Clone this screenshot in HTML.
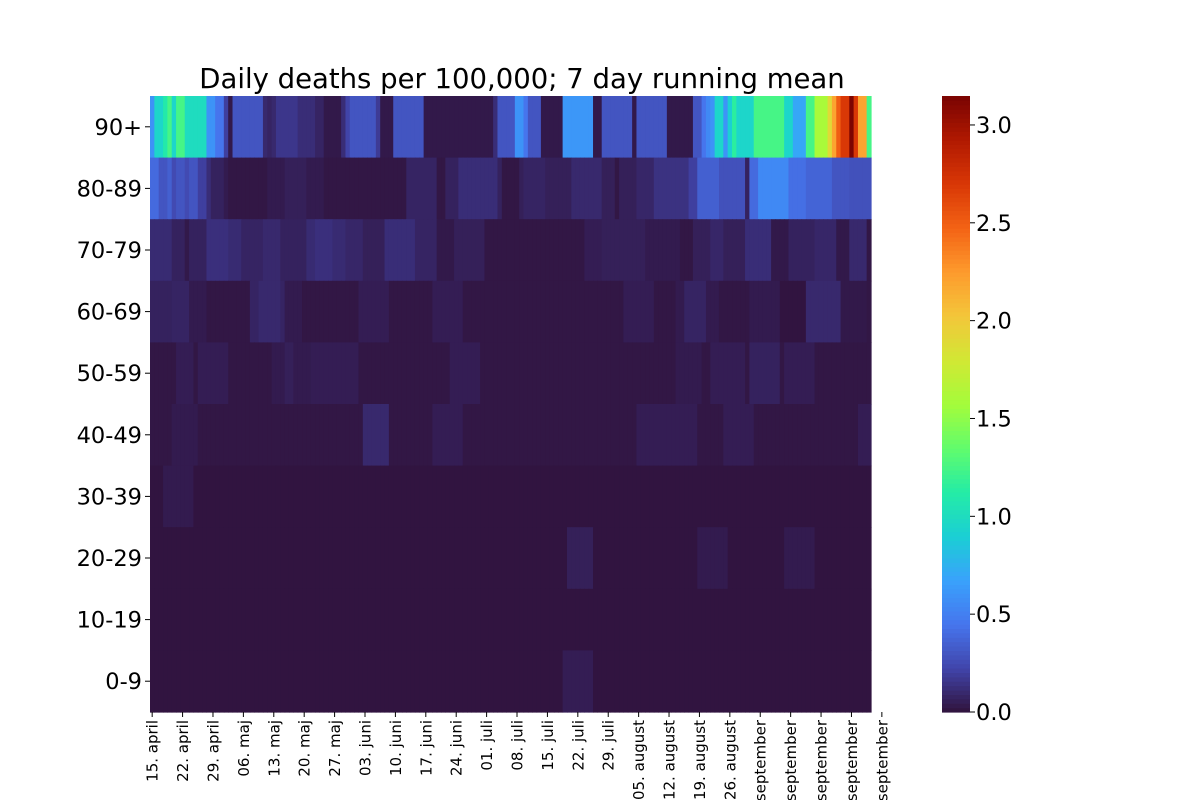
<!DOCTYPE html>
<html><head><meta charset="utf-8"><style>
body{margin:0;background:#fff;}
svg text{font-family:"DejaVu Sans","Liberation Sans",sans-serif;}
</style></head><body>
<svg id="chart" width="1200" height="800" viewBox="0 0 1200 800" xmlns="http://www.w3.org/2000/svg">
<text x="522" y="88" font-size="27.5" text-anchor="middle" fill="#000">Daily deaths per 100,000; 7 day running mean</text>
<g id="cells"></g>
<g id="yaxis"></g>
<g id="xaxis"></g>
<g id="cbar"></g>
</svg>
<script>
const ageGroups = ["90+","80-89","70-79","60-69","50-59","40-49","30-39","20-29","10-19","0-9"];
const xTickLabels = ["15. april","22. april","29. april","06. maj","13. maj","20. maj","27. maj","03. juni","10. juni","17. juni","24. juni","01. juli","08. juli","15. juli","22. juli","29. juli","05. august","12. august","19. august","26. august","02. september","09. september","16. september","23. september","30. september"];
const cbTicks = [0.0,0.5,1.0,1.5,2.0,2.5,3.0];
const vMax = 3.148;
const row90 = [0.6,0.95,0.95,1.1,1.25,0.95,1.25,1.25,1.0,1.0, 1.0,1.0,1.0,0.6,0.6,0.45,0.45,0.2,0.03,0.3, 0.3,0.3,0.3,0.3,0.3,0.3,0.1,0.08,0.1,0.16, 0.16,0.16,0.16,0.16,0.12,0.12,0.12,0.12,0.08,0.08, 0.03,0.03,0.03,0.03,0.12,0.22,0.3,0.3,0.3,0.3, 0.3,0.3,0.18,0.03,0.03,0.03,0.3,0.3,0.3,0.3, 0.3,0.3,0.3,0.03,0.03,0.03,0.03,0.03,0.03,0.03, 0.03,0.03,0.03,0.03,0.03,0.03,0.03,0.03,0.03,0.12, 0.3,0.3,0.3,0.3,0.6,0.6,0.45,0.3,0.3,0.3, 0.03,0.03,0.03,0.03,0.03,0.62,0.62,0.62,0.62,0.62, 0.62,0.62,0.03,0.03,0.3,0.3,0.3,0.3,0.3,0.3, 0.3,0.03,0.3,0.3,0.3,0.3,0.3,0.3,0.3,0.03, 0.03,0.03,0.03,0.03,0.03,0.3,0.3,0.45,0.55,0.6, 0.95,0.95,0.6,0.9,1.15,0.95,0.95,0.95,0.95,1.25, 1.25,1.25,1.25,1.25,1.25,1.25,0.95,0.95,0.7,0.7, 0.7,1.25,1.25,1.6,1.6,1.6,1.9,2.2,2.5,2.7, 2.7,3.14,2.7,2.2,2.2,1.25];
const row80 = [0.4,0.4,0.3,0.3,0.35,0.25,0.3,0.3,0.25,0.3, 0.3,0.2,0.2,0.12,0.07,0.07,0.07,0.04,0.02,0.02, 0.02,0.02,0.02,0.02,0.02,0.02,0.02,0.04,0.04,0.04, 0.04,0.06,0.06,0.06,0.06,0.06,0.04,0.04,0.04,0.04, 0.02,0.02,0.02,0.02,0.02,0.02,0.02,0.02,0.02,0.02, 0.02,0.02,0.02,0.02,0.02,0.02,0.02,0.02,0.02,0.08, 0.08,0.08,0.08,0.08,0.08,0.08,0.02,0.02,0.07,0.07, 0.07,0.12,0.12,0.12,0.12,0.12,0.12,0.12,0.12,0.12, 0.07,0.02,0.02,0.02,0.02,0.06,0.08,0.08,0.08,0.08, 0.08,0.06,0.06,0.06,0.06,0.06,0.06,0.1,0.1,0.1, 0.1,0.1,0.1,0.1,0.06,0.06,0.06,0.02,0.06,0.06, 0.06,0.06,0.09,0.09,0.09,0.09,0.14,0.14,0.14,0.14, 0.14,0.14,0.14,0.14,0.2,0.2,0.35,0.35,0.35,0.35, 0.35,0.28,0.28,0.28,0.28,0.28,0.28,0.07,0.4,0.4, 0.55,0.55,0.55,0.55,0.55,0.55,0.55,0.42,0.42,0.42, 0.42,0.37,0.37,0.37,0.37,0.37,0.37,0.3,0.3,0.3, 0.3,0.28,0.28,0.28,0.28,0.28];
const row70 = [0.11,0.11,0.11,0.11,0.11,0.07,0.07,0.07,0.03,0.07, 0.07,0.07,0.07,0.13,0.13,0.13,0.13,0.13,0.11,0.11, 0.11,0.08,0.08,0.08,0.08,0.08,0.1,0.1,0.1,0.1, 0.07,0.07,0.07,0.07,0.07,0.07,0.11,0.11,0.13,0.13, 0.13,0.13,0.11,0.11,0.11,0.09,0.09,0.09,0.09,0.06, 0.06,0.06,0.06,0.06,0.12,0.12,0.12,0.12,0.12,0.12, 0.12,0.08,0.08,0.08,0.08,0.08,0.03,0.03,0.03,0.03, 0.06,0.06,0.06,0.06,0.06,0.06,0.06,0.02,0.02,0.02, 0.02,0.02,0.02,0.02,0.02,0.02,0.02,0.02,0.02,0.02, 0.02,0.02,0.02,0.02,0.02,0.02,0.02,0.02,0.02,0.02, 0.05,0.05,0.05,0.05,0.06,0.06,0.06,0.06,0.06,0.06, 0.06,0.06,0.06,0.06,0.04,0.04,0.04,0.04,0.04,0.04, 0.04,0.04,0.02,0.02,0.02,0.06,0.06,0.06,0.06,0.09, 0.09,0.09,0.06,0.06,0.06,0.06,0.06,0.12,0.12,0.12, 0.12,0.12,0.12,0.03,0.03,0.03,0.03,0.07,0.07,0.07, 0.07,0.07,0.07,0.09,0.09,0.09,0.09,0.09,0.03,0.03, 0.03,0.1,0.1,0.1,0.1,0.02];
const row60 = [0.07,0.07,0.07,0.07,0.07,0.08,0.08,0.08,0.08,0.04, 0.04,0.04,0.04,0.02,0.02,0.02,0.02,0.02,0.02,0.02, 0.02,0.02,0.02,0.08,0.08,0.1,0.1,0.1,0.1,0.1, 0.08,0.04,0.04,0.04,0.04,0.02,0.02,0.02,0.02,0.02, 0.02,0.02,0.02,0.02,0.02,0.02,0.02,0.02,0.05,0.05, 0.05,0.05,0.05,0.05,0.05,0.02,0.02,0.02,0.02,0.02, 0.02,0.02,0.02,0.02,0.02,0.05,0.05,0.05,0.05,0.05, 0.05,0.05,0.02,0.02,0.02,0.02,0.02,0.02,0.02,0.02, 0.02,0.02,0.02,0.02,0.02,0.02,0.02,0.02,0.02,0.02, 0.02,0.02,0.02,0.02,0.02,0.02,0.02,0.02,0.02,0.02, 0.02,0.02,0.02,0.02,0.02,0.02,0.02,0.02,0.02,0.05, 0.05,0.05,0.05,0.05,0.05,0.05,0.02,0.02,0.02,0.02, 0.02,0.04,0.04,0.08,0.08,0.08,0.08,0.08,0.04,0.04, 0.04,0.02,0.02,0.02,0.02,0.02,0.02,0.02,0.04,0.04, 0.04,0.04,0.04,0.04,0.04,0.01,0.01,0.01,0.01,0.01, 0.01,0.1,0.1,0.1,0.1,0.1,0.1,0.1,0.1,0.03, 0.03,0.03,0.03,0.03,0.03,0.02];
const row50 = [0.02,0.02,0.02,0.02,0.02,0.02,0.05,0.05,0.05,0.05, 0.02,0.05,0.05,0.05,0.05,0.05,0.05,0.05,0.02,0.02, 0.02,0.02,0.02,0.02,0.02,0.02,0.02,0.02,0.04,0.04, 0.04,0.06,0.06,0.04,0.04,0.04,0.04,0.05,0.05,0.05, 0.05,0.05,0.05,0.05,0.05,0.05,0.05,0.05,0.02,0.02, 0.02,0.02,0.02,0.02,0.02,0.02,0.02,0.02,0.02,0.02, 0.02,0.02,0.02,0.02,0.02,0.02,0.02,0.02,0.02,0.05, 0.05,0.05,0.05,0.05,0.05,0.05,0.02,0.02,0.02,0.02, 0.02,0.02,0.02,0.02,0.02,0.02,0.02,0.02,0.02,0.02, 0.02,0.02,0.02,0.02,0.02,0.02,0.02,0.02,0.02,0.02, 0.02,0.02,0.02,0.02,0.02,0.02,0.02,0.02,0.02,0.02, 0.02,0.02,0.02,0.02,0.02,0.02,0.02,0.02,0.02,0.02, 0.02,0.04,0.04,0.04,0.04,0.04,0.04,0.02,0.02,0.05, 0.05,0.05,0.05,0.05,0.05,0.05,0.05,0.02,0.07,0.07, 0.07,0.07,0.07,0.07,0.07,0.02,0.05,0.05,0.05,0.05, 0.05,0.05,0.05,0.02,0.02,0.02,0.02,0.02,0.02,0.02, 0.02,0.02,0.02,0.02,0.02,0.02];
const row40 = [0.02,0.02,0.02,0.02,0.02,0.04,0.04,0.04,0.04,0.04, 0.04,0.02,0.02,0.02,0.02,0.02,0.02,0.02,0.02,0.02, 0.02,0.02,0.02,0.02,0.02,0.02,0.02,0.02,0.02,0.02, 0.02,0.02,0.02,0.02,0.02,0.02,0.02,0.02,0.02,0.02, 0.02,0.02,0.02,0.02,0.02,0.02,0.02,0.02,0.02,0.1, 0.1,0.1,0.1,0.1,0.1,0.02,0.02,0.02,0.02,0.02, 0.02,0.02,0.02,0.02,0.02,0.05,0.05,0.05,0.05,0.05, 0.05,0.05,0.02,0.02,0.02,0.02,0.02,0.02,0.02,0.02, 0.02,0.02,0.02,0.02,0.02,0.02,0.02,0.02,0.02,0.02, 0.02,0.02,0.02,0.02,0.02,0.02,0.02,0.02,0.02,0.02, 0.02,0.02,0.02,0.02,0.02,0.02,0.02,0.02,0.02,0.02, 0.02,0.02,0.05,0.05,0.05,0.05,0.05,0.05,0.05,0.05, 0.05,0.05,0.05,0.05,0.05,0.05,0.02,0.02,0.02,0.02, 0.02,0.02,0.05,0.05,0.05,0.05,0.05,0.05,0.05,0.02, 0.02,0.02,0.02,0.02,0.02,0.02,0.02,0.02,0.02,0.02, 0.02,0.02,0.02,0.02,0.02,0.02,0.02,0.02,0.02,0.02, 0.02,0.02,0.02,0.05,0.05,0.05];
const row30 = [0.01,0.01,0.01,0.04,0.04,0.04,0.04,0.04,0.04,0.04, 0.01,0.01,0.01,0.01,0.01,0.01,0.01,0.01,0.01,0.01, 0.01,0.01,0.01,0.01,0.01,0.01,0.01,0.01,0.01,0.01, 0.01,0.01,0.01,0.01,0.01,0.01,0.01,0.01,0.01,0.01, 0.01,0.01,0.01,0.01,0.01,0.01,0.01,0.01,0.01,0.01, 0.01,0.01,0.01,0.01,0.01,0.01,0.01,0.01,0.01,0.01, 0.01,0.01,0.01,0.01,0.01,0.01,0.01,0.01,0.01,0.01, 0.01,0.01,0.01,0.01,0.01,0.01,0.01,0.01,0.01,0.01, 0.01,0.01,0.01,0.01,0.01,0.01,0.01,0.01,0.01,0.01, 0.01,0.01,0.01,0.01,0.01,0.01,0.01,0.01,0.01,0.01, 0.01,0.01,0.01,0.01,0.01,0.01,0.01,0.01,0.01,0.01, 0.01,0.01,0.01,0.01,0.01,0.01,0.01,0.01,0.01,0.01, 0.01,0.01,0.01,0.01,0.01,0.01,0.01,0.01,0.01,0.01, 0.01,0.01,0.01,0.01,0.01,0.01,0.01,0.01,0.01,0.01, 0.01,0.01,0.01,0.01,0.01,0.01,0.01,0.01,0.01,0.01, 0.01,0.01,0.01,0.01,0.01,0.01,0.01,0.01,0.01,0.01, 0.01,0.01,0.01,0.01,0.01,0.01];
const row20 = [0.01,0.01,0.01,0.01,0.01,0.01,0.01,0.01,0.01,0.01, 0.01,0.01,0.01,0.01,0.01,0.01,0.01,0.01,0.01,0.01, 0.01,0.01,0.01,0.01,0.01,0.01,0.01,0.01,0.01,0.01, 0.01,0.01,0.01,0.01,0.01,0.01,0.01,0.01,0.01,0.01, 0.01,0.01,0.01,0.01,0.01,0.01,0.01,0.01,0.01,0.01, 0.01,0.01,0.01,0.01,0.01,0.01,0.01,0.01,0.01,0.01, 0.01,0.01,0.01,0.01,0.01,0.01,0.01,0.01,0.01,0.01, 0.01,0.01,0.01,0.01,0.01,0.01,0.01,0.01,0.01,0.01, 0.01,0.01,0.01,0.01,0.01,0.01,0.01,0.01,0.01,0.01, 0.01,0.01,0.01,0.01,0.01,0.01,0.06,0.06,0.06,0.06, 0.06,0.06,0.01,0.01,0.01,0.01,0.01,0.01,0.01,0.01, 0.01,0.01,0.01,0.01,0.01,0.01,0.01,0.01,0.01,0.01, 0.01,0.01,0.01,0.01,0.01,0.01,0.04,0.04,0.04,0.04, 0.04,0.04,0.04,0.01,0.01,0.01,0.01,0.01,0.01,0.01, 0.01,0.01,0.01,0.01,0.01,0.01,0.04,0.04,0.04,0.04, 0.04,0.04,0.04,0.01,0.01,0.01,0.01,0.01,0.01,0.01, 0.01,0.01,0.01,0.01,0.01,0.01];
const row10 = [0.01,0.01,0.01,0.01,0.01,0.01,0.01,0.01,0.01,0.01, 0.01,0.01,0.01,0.01,0.01,0.01,0.01,0.01,0.01,0.01, 0.01,0.01,0.01,0.01,0.01,0.01,0.01,0.01,0.01,0.01, 0.01,0.01,0.01,0.01,0.01,0.01,0.01,0.01,0.01,0.01, 0.01,0.01,0.01,0.01,0.01,0.01,0.01,0.01,0.01,0.01, 0.01,0.01,0.01,0.01,0.01,0.01,0.01,0.01,0.01,0.01, 0.01,0.01,0.01,0.01,0.01,0.01,0.01,0.01,0.01,0.01, 0.01,0.01,0.01,0.01,0.01,0.01,0.01,0.01,0.01,0.01, 0.01,0.01,0.01,0.01,0.01,0.01,0.01,0.01,0.01,0.01, 0.01,0.01,0.01,0.01,0.01,0.01,0.01,0.01,0.01,0.01, 0.01,0.01,0.01,0.01,0.01,0.01,0.01,0.01,0.01,0.01, 0.01,0.01,0.01,0.01,0.01,0.01,0.01,0.01,0.01,0.01, 0.01,0.01,0.01,0.01,0.01,0.01,0.01,0.01,0.01,0.01, 0.01,0.01,0.01,0.01,0.01,0.01,0.01,0.01,0.01,0.01, 0.01,0.01,0.01,0.01,0.01,0.01,0.01,0.01,0.01,0.01, 0.01,0.01,0.01,0.01,0.01,0.01,0.01,0.01,0.01,0.01, 0.01,0.01,0.01,0.01,0.01,0.01];
const row0 = [0.01,0.01,0.01,0.01,0.01,0.01,0.01,0.01,0.01,0.01, 0.01,0.01,0.01,0.01,0.01,0.01,0.01,0.01,0.01,0.01, 0.01,0.01,0.01,0.01,0.01,0.01,0.01,0.01,0.01,0.01, 0.01,0.01,0.01,0.01,0.01,0.01,0.01,0.01,0.01,0.01, 0.01,0.01,0.01,0.01,0.01,0.01,0.01,0.01,0.01,0.01, 0.01,0.01,0.01,0.01,0.01,0.01,0.01,0.01,0.01,0.01, 0.01,0.01,0.01,0.01,0.01,0.01,0.01,0.01,0.01,0.01, 0.01,0.01,0.01,0.01,0.01,0.01,0.01,0.01,0.01,0.01, 0.01,0.01,0.01,0.01,0.01,0.01,0.01,0.01,0.01,0.01, 0.01,0.01,0.01,0.01,0.01,0.05,0.05,0.05,0.05,0.05, 0.05,0.05,0.01,0.01,0.01,0.01,0.01,0.01,0.01,0.01, 0.01,0.01,0.01,0.01,0.01,0.01,0.01,0.01,0.01,0.01, 0.01,0.01,0.01,0.01,0.01,0.01,0.01,0.01,0.01,0.01, 0.01,0.01,0.01,0.01,0.01,0.01,0.01,0.01,0.01,0.01, 0.01,0.01,0.01,0.01,0.01,0.01,0.01,0.01,0.01,0.01, 0.01,0.01,0.01,0.01,0.01,0.01,0.01,0.01,0.01,0.01, 0.01,0.01,0.01,0.01,0.01,0.01];
const rowsData = [row90,row80,row70,row60,row50,row40,row30,row20,row10,row0];

const NS = "http://www.w3.org/2000/svg";
const PL = 150, PR = 871, PT = 96, PB = 712;
const nDays = row90.length;
const colW = (PR - PL) / nDays;
const rowH = (PB - PT) / ageGroups.length;
function xDay(i){ return PL + i * colW; }
function yRow(r){ return PT + r * rowH; }
const TURBO = [[48,18,59],[65,69,171],[70,117,237],[57,162,252],[27,207,212],[36,236,166],[97,252,108],[164,252,59],[209,232,52],[243,198,58],[254,155,45],[243,99,21],[217,56,6],[177,25,1],[122,4,2]];
function turbo(t){
  t = Math.max(0, Math.min(1, t));
  const p = t * (TURBO.length - 1);
  const i = Math.min(TURBO.length - 2, Math.floor(p));
  const f = p - i;
  const a = TURBO[i], b = TURBO[i + 1];
  return `rgb(${Math.round(a[0]+(b[0]-a[0])*f)},${Math.round(a[1]+(b[1]-a[1])*f)},${Math.round(a[2]+(b[2]-a[2])*f)})`;
}
function mk(tag, attrs, parent){
  const e = document.createElementNS(NS, tag);
  for (const k in attrs) e.setAttribute(k, attrs[k]);
  parent.appendChild(e);
  return e;
}
const cells = document.getElementById('cells');
rowsData.forEach((row, r) => {
  row.forEach((v, i) => {
    const rect = mk('rect', {x: xDay(i), y: yRow(r), width: colW + 0.6, height: rowH + 0.6, fill: turbo(v / vMax)}, cells);
    
    
  });
});
const yaxis = document.getElementById('yaxis');
ageGroups.forEach((g, r) => {
  const cy = yRow(r) + rowH / 2;
  const tk = mk('line', {x1: PL - 5, x2: PL, y1: cy, y2: cy, stroke: '#000', 'stroke-width': 1}, yaxis);
  
  
  const t = mk('text', {x: PL - 8, y: cy + 8, 'font-size': 22.5, 'text-anchor': 'end', fill: '#000'}, yaxis);
  t.textContent = g;
  
  
});
const xaxis = document.getElementById('xaxis');
xTickLabels.forEach((lab, k) => {
  const cx = xDay(k * 7 + 0.5);
  const tk = mk('line', {x1: cx, x2: cx, y1: PB, y2: PB + 5, stroke: '#000', 'stroke-width': 1}, xaxis);
  
  
  const t = mk('text', {x: 0, y: 0, 'font-size': 15, 'text-anchor': 'end', fill: '#000', transform: `translate(${cx + 5.5},${PB + 8}) rotate(-90)`}, xaxis);
  t.textContent = lab;
  
  
});
const cbar = document.getElementById('cbar');
const CBX = 942, CBW = 28;
const nSeg = 140;
for (let s = 0; s < nSeg; s++) {
  const y0 = PB - (s + 1) * (PB - PT) / nSeg;
  const seg = mk('rect', {x: CBX, y: y0, width: CBW, height: (PB - PT) / nSeg + 0.6, fill: turbo((s + 0.5) / nSeg)}, cbar);
  
  
}
function yCb(v){ return PB - v / vMax * (PB - PT); }
cbTicks.forEach(v => {
  const y = yCb(v);
  const tk = mk('line', {x1: CBX + CBW, x2: CBX + CBW + 5, y1: y, y2: y, stroke: '#000', 'stroke-width': 1}, cbar);
  
  
  const t = mk('text', {x: CBX + CBW + 6, y: y + 8, 'font-size': 22.5, fill: '#000'}, cbar);
  t.textContent = v.toFixed(1);
  
  
});
</script>
</body></html>
